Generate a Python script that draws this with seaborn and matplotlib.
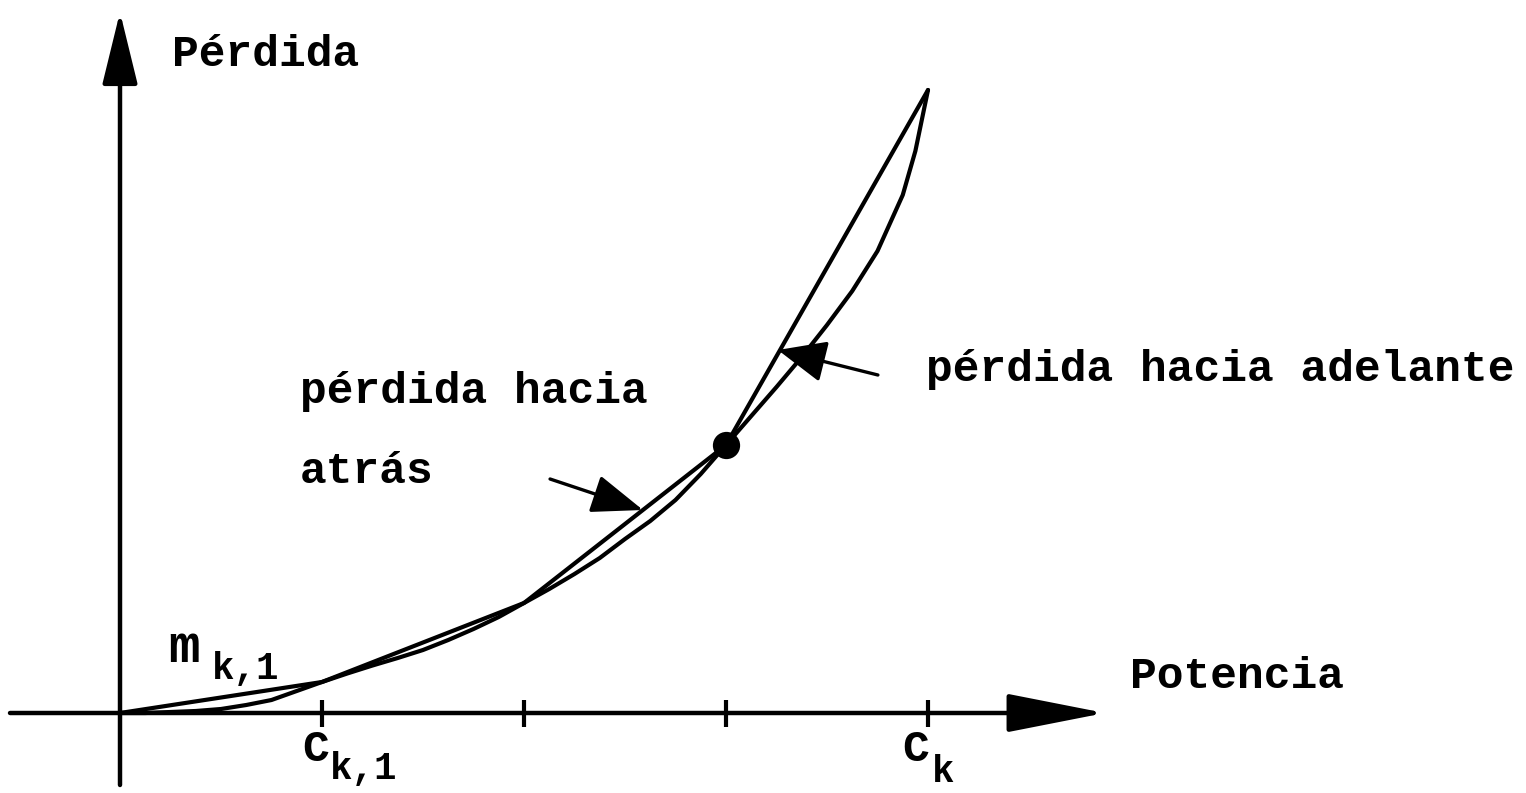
import matplotlib
matplotlib.use("Agg")
import matplotlib.pyplot as plt
import seaborn as sns
import pandas as pd

# Loss curve read at eighth steps of power (units of C_k / 4)
curve_power = [0, 0.125, 0.25, 0.375, 0.5, 0.625, 0.75, 0.875,
               1.0, 1.125, 1.25, 1.375, 1.5, 1.625, 1.75, 1.875,
               2.0, 2.125, 2.25, 2.375, 2.5, 2.625, 2.75, 2.875,
               3.0, 3.125, 3.25, 3.375, 3.5, 3.625, 3.75, 3.875, 3.9375, 4.0]
curve_loss = [0, 0.0, 0.01, 0.02, 0.04, 0.08, 0.13, 0.22,
              0.31, 0.395, 0.475, 0.55, 0.63, 0.73, 0.84, 0.96,
              1.10, 1.24, 1.39, 1.55, 1.74, 1.92, 2.13, 2.39,
              2.68, 2.97, 3.26, 3.56, 3.88, 4.22, 4.62, 5.18, 5.62, 6.23]

# Piecewise-linear segments through the breakpoints
seg_power = [0, 1, 2, 3, 4]
seg_loss = [0, 0.31, 1.10, 2.68, 6.23]

# Marked breakpoint
dot_power = [3]
dot_loss = [2.68]

tick_power = [1, 2, 3, 4]

sns.set_theme(style="white")
plt.rcParams["font.family"] = ["Liberation Mono", "DejaVu Sans Mono"]
FONT = dict(fontsize=32, fontweight="bold", color="black")
SUB = dict(fontsize=27, fontweight="bold", color="black")

fig = plt.figure(figsize=(15.26, 7.93), dpi=100)
ax = fig.add_axes([0, 0, 1, 1])
ax.set_xlim(-120 / 202, (1526 - 120) / 202)
ax.set_ylim(-0.80, 7.13)
ax.axis("off")

lw = 3.0
df_curve = pd.DataFrame({"p": curve_power, "l": curve_loss})
df_seg = pd.DataFrame({"p": seg_power, "l": seg_loss})
sns.lineplot(data=df_curve, x="p", y="l", ax=ax, color="black", lw=lw, sort=False, estimator=None)
sns.lineplot(data=df_seg, x="p", y="l", ax=ax, color="black", lw=lw, sort=False, estimator=None)
sns.scatterplot(x=dot_power, y=dot_loss, ax=ax, color="black", s=330, edgecolor="black", zorder=5)

# Axes with arrowheads
ax.annotate("", xy=(0, 7.01), xytext=(0, -0.72),
            arrowprops=dict(arrowstyle="-|>,head_length=45,head_width=11", mutation_scale=1,
                            lw=3.2, color="black", shrinkA=0, shrinkB=0))
ax.annotate("", xy=((1105 - 120) / 202, 0), xytext=((10 - 120) / 202, 0),
            arrowprops=dict(arrowstyle="-|>,head_length=61,head_width=12", mutation_scale=1,
                            lw=3.2, color="black", shrinkA=0, shrinkB=0))

# Tick marks on the power axis
ax.vlines(tick_power, -0.14, 0.13, color="black", lw=3)

# Pointer arrows
ax.annotate("", xy=(2.589, 2.03), xytext=(2.129, 2.34),
            arrowprops=dict(arrowstyle="-|>,head_length=32,head_width=12", mutation_scale=1,
                            lw=2.4, color="black", shrinkA=0, shrinkB=0))
ax.annotate("", xy=(3.257, 3.63), xytext=(3.752, 3.38),
            arrowprops=dict(arrowstyle="-|>,head_length=30,head_width=13", mutation_scale=1,
                            lw=2.4, color="black", shrinkA=0, shrinkB=0))


def px(x, y):
    return (x - 120) / 202, (713 - y) / 100


ax.text(*px(172, 66), "Pérdida", ha="left", va="baseline", **FONT)
ax.text(*px(1130, 688), "Potencia", ha="left", va="baseline", **FONT)
ax.text(*px(926, 381), "pérdida hacia adelante", ha="left", va="baseline", **FONT)
ax.text(*px(300, 403), "pérdida hacia", ha="left", va="baseline", **FONT)
ax.text(*px(300, 483), "atrás", ha="left", va="baseline", **FONT)

ax.text(*px(168, 662), "m", ha="left", va="baseline", fontsize=38, fontweight="bold", color="black")
ax.text(*px(212, 679), "k,1", ha="left", va="baseline", **SUB)
ax.text(*px(302, 761), "C", ha="left", va="baseline", **FONT)
ax.text(*px(330, 779), "k,1", ha="left", va="baseline", **SUB)
ax.text(*px(902, 761), "C", ha="left", va="baseline", **FONT)
ax.text(*px(932, 782), "k", ha="left", va="baseline", **SUB)

fig.savefig("out.png", dpi=100, facecolor="white")
